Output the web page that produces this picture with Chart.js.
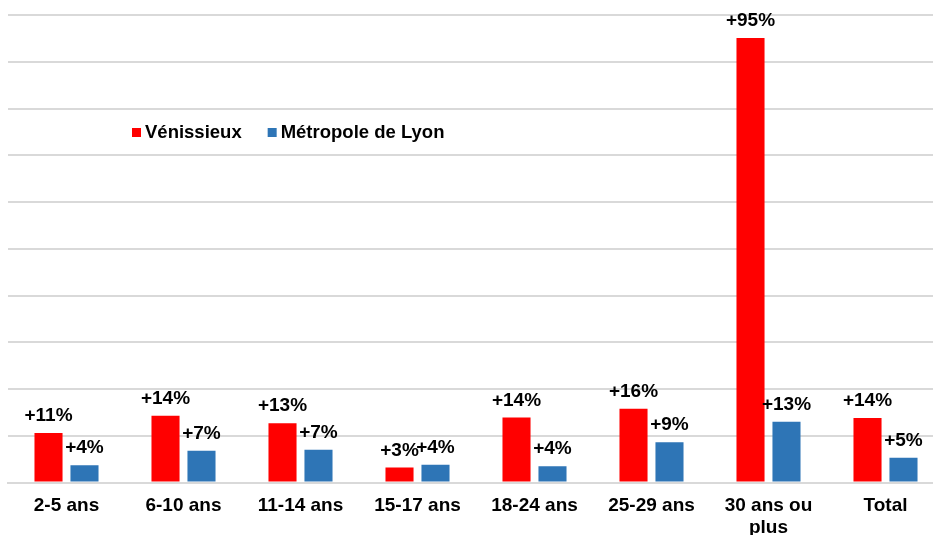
<!DOCTYPE html>
<html>
<head>
<meta charset="utf-8">
<script src="https://cdn.jsdelivr.net/npm/chart.js@4/dist/chart.umd.min.js"></script>
<style>
  html, body { margin: 0; padding: 0; background: #fff; overflow: hidden; }
</style>
</head>
<body>
<canvas id="evoChart" width="948" height="535"></canvas>
<script>
// tranches d'age
const categories = ['2-5 ans', '6-10 ans', '11-14 ans', '15-17 ans', '18-24 ans', '25-29 ans', ['30 ans ou', 'plus'], 'Total'];
// evolution en %
const venissieux = [10.6, 14.3, 12.7, 3.2, 13.9, 15.8, 95.1, 13.8];
const metropole = [3.7, 6.8, 7.0, 3.8, 3.5, 8.6, 13.0, 5.3];

const FONT = '"Liberation Sans", Arial, sans-serif';

// valeurs au-dessus des barres
const valueLabels = {
  id: 'valueLabels',
  afterDatasetsDraw(chart) {
    const ctx = chart.ctx;
    ctx.save();
    ctx.font = 'bold 19px ' + FONT;
    ctx.fillStyle = '#000';
    ctx.textAlign = 'center';
    ctx.textBaseline = 'alphabetic';
    chart.data.datasets.forEach((ds, i) => {
      chart.getDatasetMeta(i).data.forEach((bar, j) => {
        ctx.fillText('+' + Math.round(ds.data[j]) + '%', bar.x, bar.y - 12);
      });
    });
    ctx.restore();
  }
};

// legende dans la zone du graphique
const innerLegend = {
  id: 'innerLegend',
  afterDraw(chart) {
    const ctx = chart.ctx;
    const area = chart.chartArea;
    let x = area.left + 124;
    const y = area.top + 117;
    ctx.save();
    ctx.font = 'bold 18.5px ' + FONT;
    ctx.textBaseline = 'middle';
    chart.data.datasets.forEach(ds => {
      ctx.fillStyle = ds.backgroundColor;
      ctx.fillRect(x, y - 4, 9, 9);
      ctx.fillStyle = '#000';
      ctx.fillText(ds.label, x + 13, y + 1);
      x += 13 + ctx.measureText(ds.label).width + 26;
    });
    ctx.restore();
  }
};

new Chart(document.getElementById('evoChart'), {
  type: 'bar',
  data: {
    labels: categories,
    datasets: [
      { label: 'Vénissieux', data: venissieux, backgroundColor: '#FF0000' },
      { label: 'Métropole de Lyon', data: metropole, backgroundColor: '#2E75B6' }
    ]
  },
  options: {
    responsive: false,
    animation: false,
    layout: { padding: { left: 8, right: 4, top: 15, bottom: -16 } },
    datasets: {
      bar: { categoryPercentage: 0.615, barPercentage: 0.78 }
    },
    plugins: {
      legend: { display: false },
      tooltip: { enabled: false }
    },
    scales: {
      x: {
        grid: { display: false, drawTicks: false },
        border: { display: true, color: '#D9D9D9', width: 2 },
        ticks: {
          color: '#000',
          padding: 12,
          maxRotation: 0,
          autoSkip: false,
          font: { family: FONT, size: 19, weight: 'bold', lineHeight: 1.17 }
        }
      },
      y: {
        min: 0,
        max: 100,
        grid: { color: '#D9D9D9', lineWidth: 2, drawTicks: false },
        border: { display: false },
        ticks: { display: false, stepSize: 10 }
      }
    }
  },
  plugins: [valueLabels, innerLegend]
});
</script>
</body>
</html>
